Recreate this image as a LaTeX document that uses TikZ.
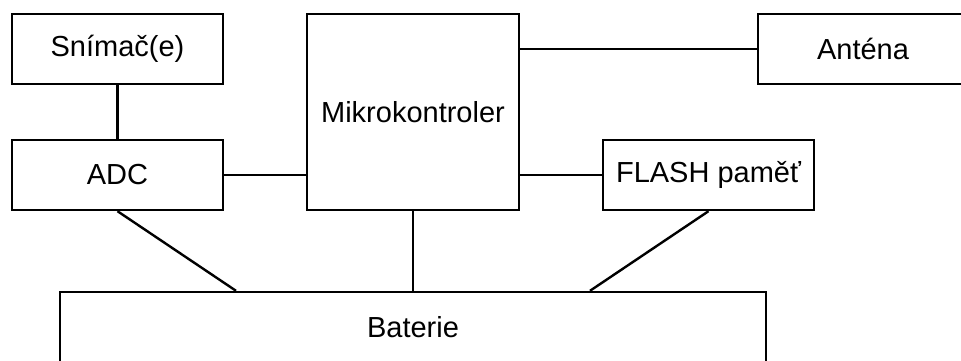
\documentclass[tikz,border=0pt]{standalone}
\usepackage{fontspec}
\setmainfont{Liberation Sans}
\usetikzlibrary{calc}
\begin{document}
\begin{tikzpicture}[x=1pt,y=1pt,
  blk/.style={draw=black,line width=2.4pt,inner sep=0pt,minimum height=70pt,font=\fontsize{29}{34}\selectfont,fill=white},
  wire/.style={draw=black,line width=2.4pt}]
\useasboundingbox (0,0) rectangle (961,360);
\clip (0,0) rectangle (961,360);
\node[blk,minimum width=211pt] (sn) at (117.5,311) {Snímač(e)};
\node[blk,minimum width=211pt] (adc) at (117.5,185) {ADC};
\node[blk,minimum width=212pt,minimum height=196pt] (mc) at (413,248) {Mikrokontroler};
\node[blk,minimum width=210pt] (ant) at (863,311) {Anténa};
\node[blk,minimum width=211pt] (fl) at (708.5,185) {FLASH paměť};
\node[blk,minimum width=706pt] (bat) at (413,33) {Baterie};
\coordinate (batL) at ($(bat.north)+(-177,0)$);
\coordinate (batR) at ($(bat.north)+(177,0)$);
\draw[wire] (sn.south) -- (adc.north);
\draw[wire] (adc.east) -- (adc.east -| mc.west);
\draw[wire] (ant.west) -- (ant.west -| mc.east);
\draw[wire] (fl.west) -- (fl.west -| mc.east);
\draw[wire] (adc.south) -- (batL);
\draw[wire] (mc.south) -- (bat.north);
\draw[wire] (fl.south) -- (batR);
\end{tikzpicture}
\end{document}
